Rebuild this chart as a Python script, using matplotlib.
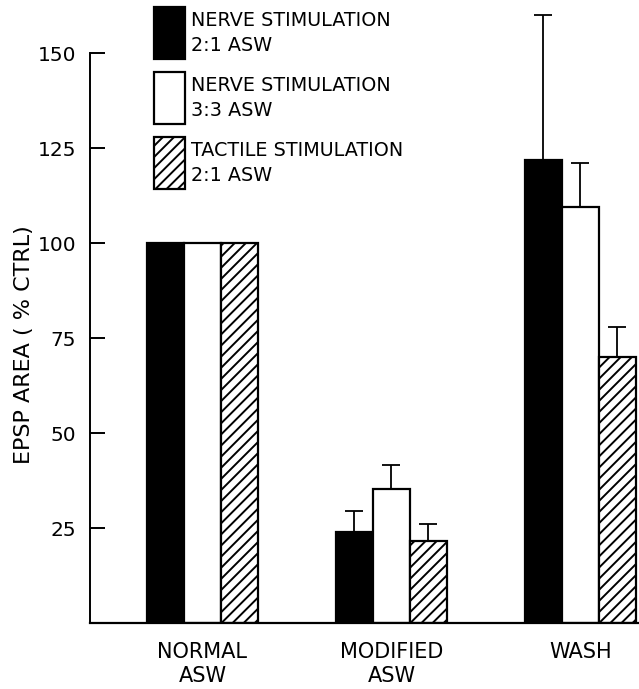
import numpy as np
import matplotlib.pyplot as plt
from matplotlib.patches import Rectangle

plt.rcParams['font.family'] = 'DejaVu Sans'
plt.rcParams['hatch.linewidth'] = 1.4

groups = ["NORMAL\nASW", "MODIFIED\nASW", "WASH"]
series = ["NERVE STIMULATION\n2:1 ASW", "NERVE STIMULATION\n3:3 ASW", "TACTILE STIMULATION\n2:1 ASW"]
means = {
    series[0]: [100, 24, 122],
    series[1]: [100, 35.3, 109.5],
    series[2]: [100, 21.5, 70],
}
errs = {
    series[0]: [0, 5.5, 38],
    series[1]: [0, 6.3, 11.5],
    series[2]: [0, 4.5, 8],
}
faces = ["black", "white", "white"]
hatches = [None, None, "///"]

W, H = 639, 689
fig = plt.figure(figsize=(W/100, H/100), dpi=100)
ax = fig.add_axes([90/W, 1-623/H, 549/W, 623/H])

x = np.arange(len(groups))
w = 0.196
for i, s in enumerate(series):
    xs = x + (i - 1) * w
    ax.bar(xs, means[s], width=w, color=faces[i], edgecolor="black",
           linewidth=1.6, hatch=hatches[i], label=s)
    e = np.array(errs[s])
    m = e > 0
    ax.errorbar(xs[m], np.array(means[s])[m], yerr=[np.zeros(m.sum()), e[m]],
                fmt="none", ecolor="black", elinewidth=1.3, capsize=6.5, capthick=1.3)

ax.set_xlim(-0.595, 2.31)
ax.set_ylim(0, 164)
ax.set_yticks([25, 50, 75, 100, 125, 150])
ax.tick_params(axis="y", direction="in", length=11, width=1.4, labelsize=14.5, pad=10)
ax.set_xticks(x)
ax.set_xticklabels(groups, fontsize=15, linespacing=1.2)
ax.tick_params(axis="x", length=0, pad=14)
for sp in ["top", "right"]:
    ax.spines[sp].set_visible(False)
ax.spines["left"].set_bounds(0, 150)
ax.spines["left"].set_linewidth(1.4)
ax.spines["bottom"].set_linewidth(1.6)

ax.set_ylabel("EPSP AREA ( % CTRL)", fontsize=16)
ax.yaxis.set_label_coords((34 - 90)/549, (623 - 345)/623)

# legend drawn by hand: box + two-line label
for i, s in enumerate(series):
    top = 7 + 65*i
    fig.add_artist(Rectangle((154/W, 1-(top+52)/H), 31/W, 52/H, transform=fig.transFigure,
                             facecolor=faces[i], edgecolor="black", linewidth=1.6,
                             hatch=hatches[i]))
    fig.text(191/W, 1-(top+26)/H, s, fontsize=13.8, va="center", ha="left", linespacing=1.45)

fig.savefig("out.png", dpi=100)
